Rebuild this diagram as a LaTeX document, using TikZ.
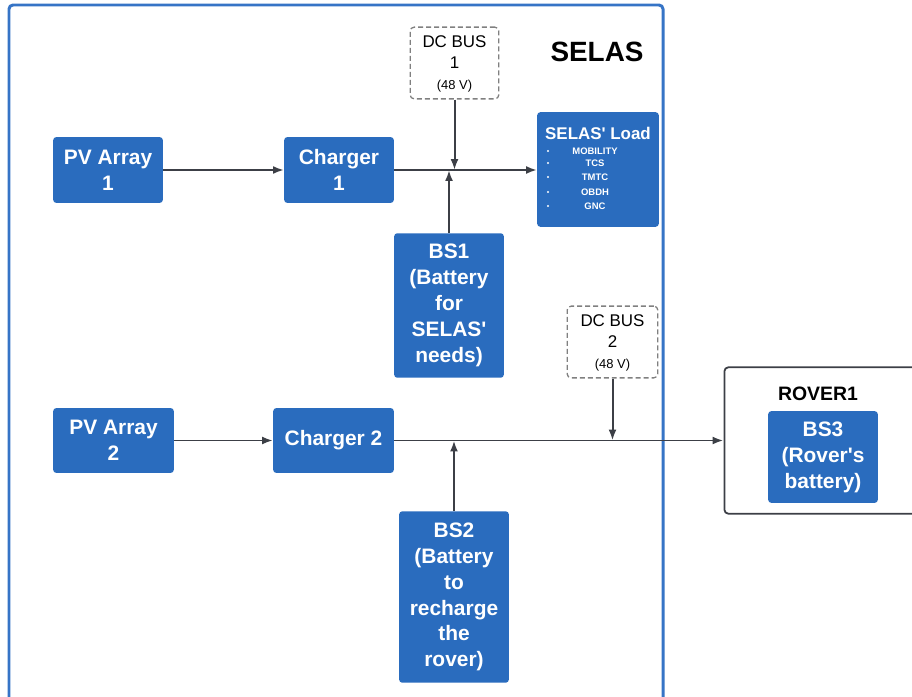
\documentclass[tikz,border=0pt]{standalone}
\usepackage{fontspec}
\setmainfont{Liberation Sans}
\usetikzlibrary{arrows.meta}

\definecolor{selasblue}{RGB}{42,108,190}
\definecolor{framblue}{RGB}{54,116,198}
\definecolor{wiregray}{RGB}{60,63,70}
\definecolor{busgray}{RGB}{128,128,128}

\begin{document}
\begin{tikzpicture}[x=1bp, y=-1bp, line join=round,
		blk/.style={fill=selasblue, text=white, rounded corners=3, align=center,
			inner sep=0pt, font=\bfseries\fontsize{21}{26}\selectfont},
		bus/.style={draw=busgray, dashed, dash pattern=on 5pt off 3pt, line width=1.3pt,
			rounded corners=4, align=center, inner sep=0pt, font=\fontsize{17}{21}\selectfont},
		wire/.style={draw=wiregray, line width=2pt, -{Latex[length=11pt, width=8pt]}},
		loaditem/.style={text=white, font=\bfseries\fontsize{9.5}{11}\selectfont, inner sep=0pt}]
	\useasboundingbox (0,0) rectangle (912,697);

	% SELAS frame and ROVER1 frame
	\draw[framblue, line width=3pt, rounded corners=4] (9,5) rectangle (663,730);
	\node[font=\bfseries\fontsize{28}{32}\selectfont] (selas) at (597,52) {SELAS};
	\node[draw=wiregray, line width=1.8pt, rounded corners=4, minimum width=220, minimum height=147] (rover) at (834,440.5) {};
	\node[font=\bfseries\fontsize{19.5}{24}\selectfont] (rovertitle) at (818,394) {ROVER1};

	% upper branch
	\node[blk, minimum width=110, minimum height=66] (pv1) at (108,170) {PV Array\\1};
	\node[blk, minimum width=110, minimum height=66] (ch1) at (339,170) {Charger\\1};
	\node[blk, minimum width=110, minimum height=145] (bs1) at (449,305.5) {BS1\\(Battery\\for\\SELAS\textquotesingle\\needs)};
	\node[bus, minimum width=89, minimum height=72] (bus1) at (454.5,63) {};
	\node[font=\fontsize{17}{21}\selectfont, align=center, inner sep=0pt] (bus1text) at (454.5,64) {DC BUS\\1\\{\fontsize{13}{15}\selectfont(48 V)}};
	\node[blk, minimum width=122, minimum height=115] (load) at (598,169.5) {};
	\node[text=white, font=\bfseries\fontsize{17}{18}\selectfont, inner sep=0pt] (loadtitle) at (598,133) {SELAS\textquotesingle\ Load};
	\foreach \name/\y in {MOBILITY/151, TCS/163, TMTC/177, OBDH/192, GNC/206} {
		\fill[white] (548,\y) circle (1.2);
		\node[loaditem] (load-\name) at (595,\y) {\name};
	}

	% lower branch
	\node[blk, minimum width=121, minimum height=65] (pv2) at (113.5,440.5) {PV Array\\2};
	\node[blk, minimum width=121, minimum height=65] (ch2) at (333.5,440.5) {Charger 2};
	\node[blk, minimum width=110, minimum height=172] (bs2) at (454,597) {BS2\\(Battery\\to\\recharge\\the\\rover)};
	\node[bus, minimum width=91, minimum height=72] (bus2) at (612.5,342) {};
	\node[font=\fontsize{17}{21}\selectfont, align=center, inner sep=0pt] (bus2text) at (612.5,343) {DC BUS\\2\\{\fontsize{13}{15}\selectfont(48 V)}};
	\node[blk, minimum width=110, minimum height=92] (bs3) at (823,457) {BS3\\(Rover\textquotesingle s\\battery)};

	% connectors
	\draw[wire] (pv1.east) -- (ch1.west);
	\draw[wire] (ch1.east) -- (ch1.east -| load.west);
	\draw[wire] (bus1.south) -- (bus1.south |- ch1.east);
	\draw[wire] (bs1.north) -- (bs1.north |- ch1.east);

	\draw[wire] (pv2.east) -- (ch2.west);
	\draw[wire] (ch2.east) -- (ch2.east -| rover.west);
	\draw[wire] (bus2.south) -- (bus2.south |- ch2.east);
	\draw[wire] (bs2.north) -- (bs2.north |- ch2.east);
\end{tikzpicture}
\end{document}
